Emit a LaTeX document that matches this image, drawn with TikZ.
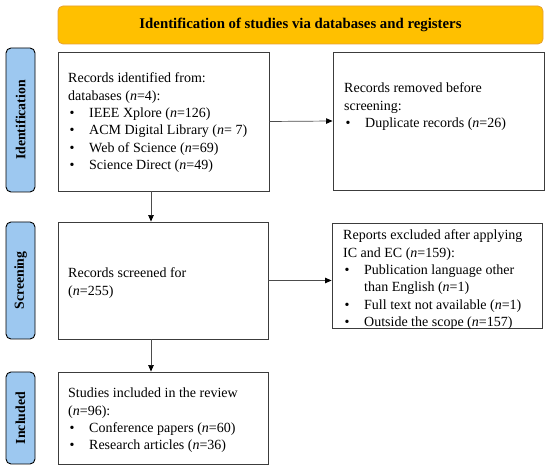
\documentclass[tikz,border=0pt]{standalone}
\usepackage{fontspec}
\setmainfont{Liberation Serif}
\usetikzlibrary{arrows.meta}
\definecolor{bannerfill}{RGB}{255,192,0}
\definecolor{bannerdraw}{RGB}{230,160,50}
\definecolor{phasefill}{RGB}{157,200,240}
\definecolor{boxdraw}{RGB}{60,60,60}
\newcommand{\bl}{\makebox[21pt][l]{\hspace{1.5pt}\textbullet}}
\newcommand{\nn}{\textit{n}}
\newcommand{\tp}{\rule{0pt}{10.5pt}}
\begin{document}
\begin{tikzpicture}[x=1pt,y=-1pt,
  banner/.style={draw=bannerdraw,fill=bannerfill,rounded corners=5pt,line width=0.8pt},
  phase/.style={draw=black,fill=phasefill,rounded corners=5pt,line width=0.9pt},
  flowbox/.style={draw=boxdraw,line width=0.9pt},
  boxtext/.style={anchor=north west,inner sep=0pt,align=left,font={\fontsize{14}{17.4}\selectfont}},
  phasetext/.style={rotate=90,inner sep=0pt,font={\fontsize{13.8}{15}\selectfont\bfseries}},
  arr/.style={-{Triangle[length=6.5pt,width=5.5pt,fill=black,color=black]},line width=0.7pt,draw=black!70},
  line/.style={line width=0.7pt,draw=black!65}]
\useasboundingbox (0,0) rectangle (550,470);
% banner
\path[banner] (58,6) rectangle (543,44);
\node[inner sep=0pt,font={\fontsize{14.8}{16}\selectfont\bfseries}] (bannertext) at (300.5,25) {Identification of studies via databases and registers};
% phases
\path[phase] (6,48) rectangle (35,192);
\node[phasetext] (ph1) at (20.5,120) {Identification};
\path[phase] (6,222) rectangle (35,339);
\node[phasetext] (ph2) at (20.5,280.5) {Screening};
\path[phase] (6,372) rectangle (35,464);
\node[phasetext] (ph3) at (20.5,418) {Included};
% boxes
\node[flowbox,minimum width=211pt,minimum height=139pt,inner sep=0pt] (b1) at (163.5,121.5) {};
\node[flowbox,minimum width=211pt,minimum height=138pt,inner sep=0pt] (b2) at (438.5,121) {};
\node[flowbox,minimum width=210pt,minimum height=117pt,inner sep=0pt] (b3) at (163,280.5) {};
\node[flowbox,minimum width=210pt,minimum height=105pt,inner sep=0pt] (b4) at (437,275.5) {};
\node[flowbox,minimum width=210pt,minimum height=92pt,inner sep=0pt] (b5) at (163,418) {};
% texts
\node[boxtext] (t1) at (68,72) {\tp Records identified from:\\
databases (\nn=4):\\
\bl IEEE Xplore (\nn=126)\\
\bl ACM Digital Library (\nn= 7)\\
\bl Web of Science (\nn=69)\\
\bl Science Direct (\nn=49)};
\node[boxtext] (t2) at (344,82) {\tp Records removed before\\
screening:\\
\bl Duplicate records (\nn=26)};
\node[boxtext] (t3) at (68,267) {\tp Records screened for\\
(\nn=255)};
\node[boxtext] (t4) at (343,229) {\tp Reports excluded after applying\\
IC and EC (\nn=159):\\
\bl Publication language other\\
\hspace*{21pt}than English (\nn=1)\\
\bl Full text not available (\nn=1)\\
\bl Outside the scope (\nn=157)};
\node[boxtext] (t5) at (68,387) {\tp Studies included in the review\\
(\nn=96):\\
\bl Conference papers (\nn=60)\\
\bl Research articles (\nn=36)};
% connectors
\coordinate (vx) at (151,0);
\draw[arr] (b1.south -| vx) -- (b3.north -| vx);
\draw[arr] (b3.south -| vx) -- (b5.north -| vx);
\draw[arr] (b1.east) -- (b2.west);
\draw[arr] (b3.east) -- (b3.east -| b4.west);
\end{tikzpicture}
\end{document}
